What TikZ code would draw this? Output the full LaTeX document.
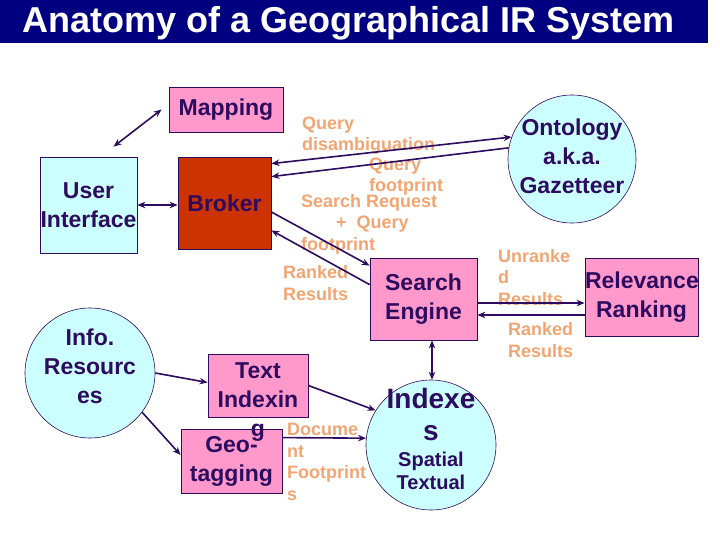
\documentclass[tikz,border=0pt]{standalone}
\usepackage{fontspec}
\setmainfont{Liberation Sans}
\usetikzlibrary{arrows.meta, positioning}

\definecolor{ink}{RGB}{45,12,95}
\definecolor{peach}{RGB}{240,165,115}
\definecolor{boxpink}{RGB}{255,153,204}
\definecolor{palecyan}{RGB}{204,255,255}
\definecolor{brick}{RGB}{204,51,0}
\definecolor{titlenavy}{RGB}{0,0,128}

\begin{document}
\begin{tikzpicture}[x=1pt, y=-1pt, >={Stealth[length=8pt,width=6.5pt]},
  box/.style={draw=ink, fill=boxpink, line width=0.8pt, inner sep=0pt, align=center,
    text=ink, font=\fontsize{23}{29}\selectfont\bfseries},
  disc/.style={circle, draw=ink, fill=palecyan, line width=0.6pt, inner sep=0pt},
  boxtext/.style={inner sep=0pt, align=center, text=ink, font=\fontsize{23}{29}\selectfont\bfseries},
  note/.style={anchor=base west, inner sep=0pt, align=left, text=peach,
    font=\fontsize{18}{21.5}\selectfont\bfseries},
  link/.style={draw=ink, line width=1.6pt}]
\useasboundingbox (0,0) rectangle (720,540);

% title bar
\fill [titlenavy] (0,0) rectangle (708,43);
\node [anchor=base west, inner sep=0pt, text=white, font=\fontsize{36}{40}\selectfont\bfseries] (title) at (22,33) {Anatomy of a Geographical IR System};

% boxes
\node [box, text width=114pt, minimum height=45pt] (map) at (226,109.5) {Mapping};
\node [box, fill=palecyan, text width=97pt, minimum height=96pt] (ui) at (88.5,205) {User\\Interface};
\node [box, fill=brick, text width=93pt, minimum height=92pt] (br) at (224.5,203) {Broker};
\node [box, text width=107pt, minimum height=82pt] (se) at (423.5,299) {Search\\Engine};
\node [box, text width=113pt, minimum height=78pt] (rr) at (641.5,297) {Relevance\\Ranking};
\node [box, text width=101pt, minimum height=64pt] (geo) at (231.5,461) {Geo-\\tagging};
\node [box, text width=100pt, minimum height=63pt] (ti) at (258,385.5) {};
\node [boxtext, anchor=north] (titext) at ([yshift=-9pt]ti.north) {Text\\Indexin\\g};

% discs
\node [disc, minimum size=128pt] (ont) at (572,159) {};
\node [boxtext] (onttext) at (572,156) {Ontology\\a.k.a.\\Gazetteer};
\node [disc, minimum size=130pt] (ir) at (90,373) {};
\node [boxtext] (irtext) at (90,366) {Info.\\Resourc\\es};
\node [disc, minimum size=130pt] (idx) at (431,445) {};
\node [boxtext, anchor=base, font=\fontsize{28}{32}\selectfont\bfseries] (idxtext) at (431,440) {Indexe\\s};
\node [boxtext, anchor=base, font=\fontsize{20}{22.5}\selectfont\bfseries] (idxsub) at (431,489) {Spatial\\Textual};

% labels (anchored at the baseline of their last line)
\node [note] (qdis) at (302,151) {Query\\disambiguation};
\node [note] (qfoot) at (369,192) {Query\\footprint};
\node [note] (sreq) at (301,250) {Search Request\\\hspace*{35pt}+\ \ Query\\footprint};
\node [note] (rkleft) at (283,300) {Ranked\\Results};
\node [note] (unrk) at (498,305) {Unranke\\d\\Results};
\node [note] (rkright) at (508,357) {Ranked\\Results};
\node [note] (docfp) at (287,500) {Docume\\nt\\Footprint\\s};

% connectors
\draw [link, <->] ([xshift=-7pt]map.west) -- ([xshift=25pt,yshift=10pt]ui.north);
\draw [link, <->] (ui.east) -- (ui.east -| br.west);
\draw [link, <->] ([yshift=-7pt]br.north east) -- (ont.160);
\draw [link, ->] (ont.170) -- ([yshift=-20pt]br.north east);
\draw [link, ->] ([yshift=-9pt]br.east) -- ([yshift=-8pt]se.north west);
\draw [link, ->] ([yshift=-27pt]se.north west) -- ([yshift=19pt]br.south east);
\draw [link, ->] ([yshift=-4pt]se.east) -- ([yshift=-4pt]se.east -| rr.west);
\draw [link, ->] ([yshift=-16pt]se.east -| rr.west) -- ([yshift=-16pt]se.east);
\draw [link, <->] ([xshift=8.5pt]se.south) -- ([xshift=8.5pt]se.south |- idx.north);
\draw [link, ->] (ir.east) -- ([yshift=3pt]ti.west);
\draw [link, ->] (ir.-37) -- ([yshift=6pt]geo.west);
\draw [link, ->] (ti.east) -- (idx.148);
\draw [link, ->] ([yshift=-9pt]geo.north east) -- (idx.174);
\end{tikzpicture}
\end{document}
